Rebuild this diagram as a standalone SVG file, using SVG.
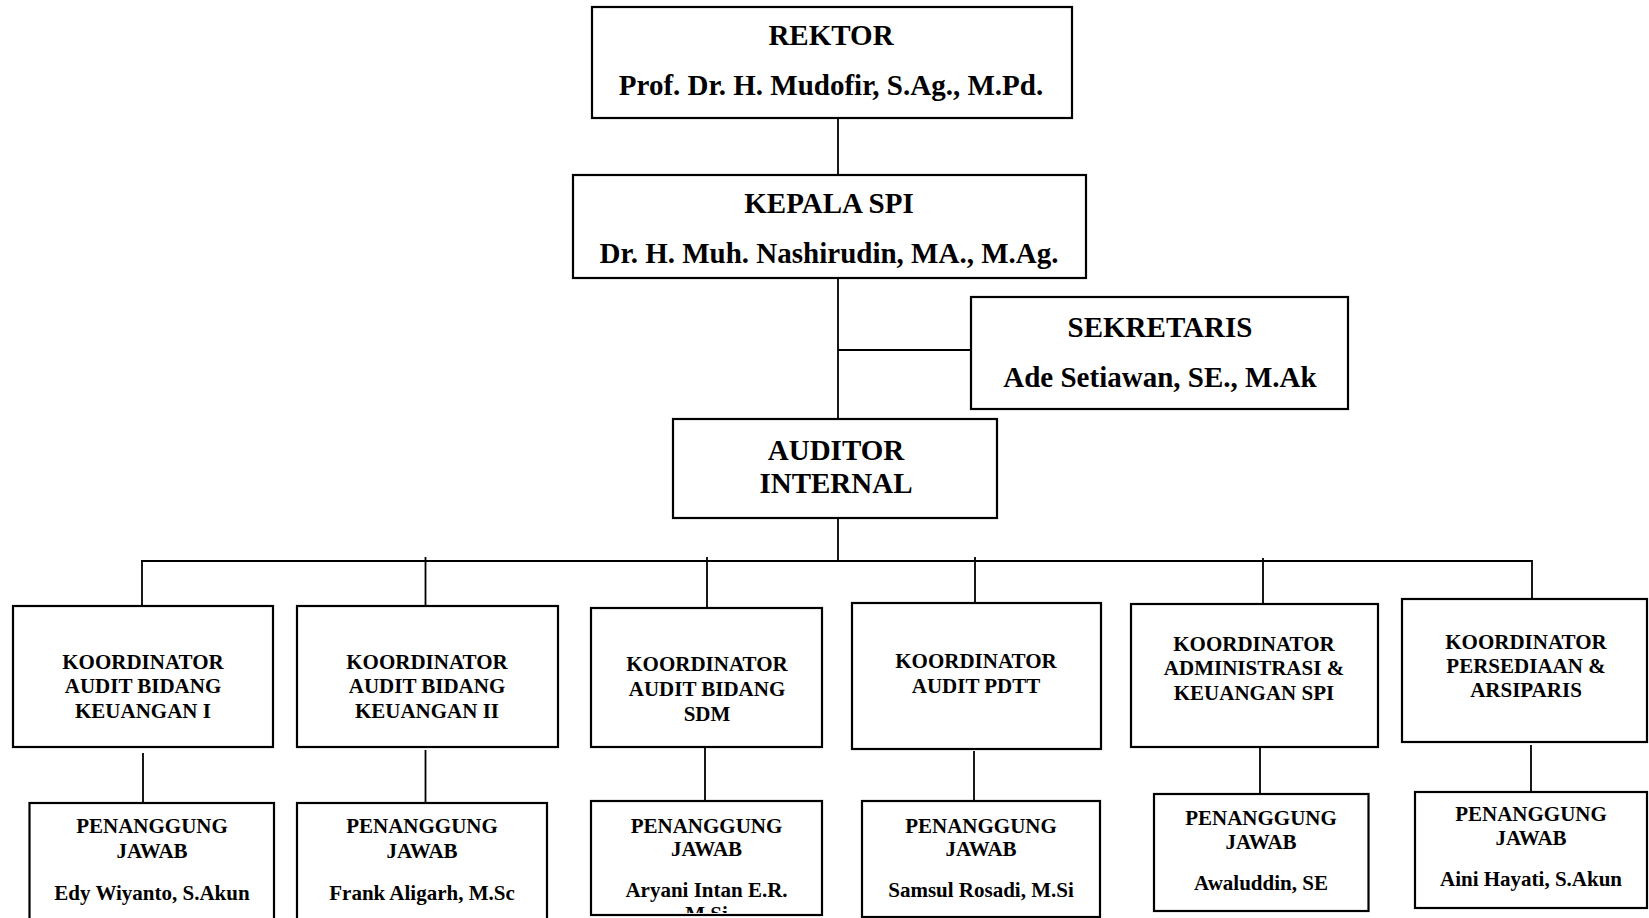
<svg xmlns="http://www.w3.org/2000/svg" width="1649" height="918" viewBox="0 0 1649 918">
<defs>
<style>
.box{fill:#fff;stroke:#000;stroke-width:2.2}
.ln{stroke:#000;stroke-width:1.8;fill:none}
.t1{font-family:"Liberation Serif","Times New Roman",serif;font-weight:bold;font-size:29px;fill:#000;text-anchor:middle}
.t2{font-family:"Liberation Serif","Times New Roman",serif;font-weight:bold;font-size:21px;fill:#000;text-anchor:middle}
</style>
<clipPath id="clipP3"><rect x="592" y="802" width="229" height="111"/></clipPath>
</defs>
<rect width="1649" height="918" fill="#fff"/>
<g id="connectors">
<path class="ln" d="M838 118V175M838 278V419M838 350H971M838 505V561M141 561H1532V601"/>
<path class="ln" d="M142 561V606M425.5 557V606M707 557V608M975 557V603M1263 558V604"/>
<path class="ln" d="M143 753V803M425.5 750V803M705 747V801M974 751V801M1260 743V794M1531 745V792"/>
</g>
<g id="rektor">
<rect class="box" x="592" y="7" width="480" height="111"/>
<text class="t1" x="831" y="45">REKTOR</text>
<text class="t1" x="831" y="95">Prof. Dr. H. Mudofir, S.Ag., M.Pd.</text>
</g>
<g id="kepala-spi">
<rect class="box" x="573" y="175" width="513" height="103"/>
<text class="t1" x="829" y="213">KEPALA SPI</text>
<text class="t1" x="829" y="263">Dr. H. Muh. Nashirudin, MA., M.Ag.</text>
</g>
<g id="sekretaris">
<rect class="box" x="971" y="297" width="377" height="112"/>
<text class="t1" x="1160" y="337">SEKRETARIS</text>
<text class="t1" x="1160" y="387">Ade Setiawan, SE., M.Ak</text>
</g>
<g id="auditor-internal">
<rect class="box" x="673" y="419" width="324" height="99"/>
<text class="t1" x="836" y="460">AUDITOR</text>
<text class="t1" x="836" y="493">INTERNAL</text>
</g>
<g id="koord-keuangan-1">
<rect class="box" x="13" y="606" width="260" height="141"/>
<text class="t2" x="143" y="669">KOORDINATOR</text>
<text class="t2" x="143" y="693">AUDIT BIDANG</text>
<text class="t2" x="143" y="718">KEUANGAN I</text>
</g>
<g id="koord-keuangan-2">
<rect class="box" x="297" y="606" width="261" height="141"/>
<text class="t2" x="427" y="669">KOORDINATOR</text>
<text class="t2" x="427" y="693">AUDIT BIDANG</text>
<text class="t2" x="427" y="718">KEUANGAN II</text>
</g>
<g id="koord-sdm">
<rect class="box" x="591" y="608" width="231" height="139"/>
<text class="t2" x="707" y="671">KOORDINATOR</text>
<text class="t2" x="707" y="696">AUDIT BIDANG</text>
<text class="t2" x="707" y="721">SDM</text>
</g>
<g id="koord-pdtt">
<rect class="box" x="852" y="603" width="249" height="146"/>
<text class="t2" x="976" y="668">KOORDINATOR</text>
<text class="t2" x="976" y="693">AUDIT PDTT</text>
</g>
<g id="koord-administrasi">
<rect class="box" x="1131" y="604" width="247" height="143"/>
<text class="t2" x="1254" y="651">KOORDINATOR</text>
<text class="t2" x="1254" y="675">ADMINISTRASI &amp;</text>
<text class="t2" x="1254" y="700">KEUANGAN SPI</text>
</g>
<g id="koord-persediaan">
<rect class="box" x="1402" y="599" width="245" height="143"/>
<text class="t2" x="1526" y="649">KOORDINATOR</text>
<text class="t2" x="1526" y="673">PERSEDIAAN &amp;</text>
<text class="t2" x="1526" y="697">ARSIPARIS</text>
</g>
<g id="pj-1">
<rect class="box" x="29.5" y="803" width="244.5" height="125"/>
<text class="t2" x="152" y="833">PENANGGUNG</text>
<text class="t2" x="152" y="858">JAWAB</text>
<text class="t2" x="152" y="900">Edy Wiyanto, S.Akun</text>
</g>
<g id="pj-2">
<rect class="box" x="297" y="803" width="250" height="125"/>
<text class="t2" x="422" y="833">PENANGGUNG</text>
<text class="t2" x="422" y="858">JAWAB</text>
<text class="t2" x="422" y="900">Frank Aligarh, M.Sc</text>
</g>
<g id="pj-3">
<rect class="box" x="591" y="801" width="231" height="114"/>
<text class="t2" x="706.5" y="833">PENANGGUNG</text>
<text class="t2" x="706.5" y="856">JAWAB</text>
<g clip-path="url(#clipP3)">
<text class="t2" x="706.5" y="897">Aryani Intan E.R.</text>
<text class="t2" x="706.5" y="921">M.Si</text>
</g>
</g>
<g id="pj-4">
<rect class="box" x="862" y="801" width="238" height="116"/>
<text class="t2" x="981" y="833">PENANGGUNG</text>
<text class="t2" x="981" y="856">JAWAB</text>
<text class="t2" x="981" y="897">Samsul Rosadi, M.Si</text>
</g>
<g id="pj-5">
<rect class="box" x="1154" y="794" width="214.5" height="117"/>
<text class="t2" x="1261" y="825">PENANGGUNG</text>
<text class="t2" x="1261" y="849">JAWAB</text>
<text class="t2" x="1261" y="890">Awaluddin, SE</text>
</g>
<g id="pj-6">
<rect class="box" x="1415" y="792" width="232" height="116"/>
<text class="t2" x="1531" y="821">PENANGGUNG</text>
<text class="t2" x="1531" y="845">JAWAB</text>
<text class="t2" x="1531" y="886">Aini Hayati, S.Akun</text>
</g>
</svg>
